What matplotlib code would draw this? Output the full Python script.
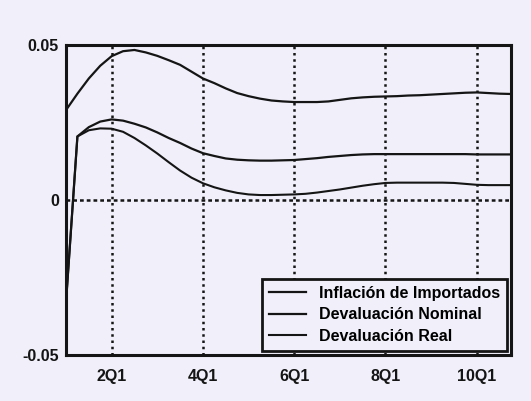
import numpy as np
import matplotlib.pyplot as plt

# quarterly simulation path, t = 0 .. 39
quarters = np.arange(40)

inflacion_importados = [
    0.0290, 0.0343, 0.0392, 0.0433, 0.0464, 0.0480, 0.0484, 0.0476, 0.0465, 0.0451,
    0.0436, 0.0414, 0.0392, 0.0377, 0.0360, 0.0345, 0.0335, 0.0327, 0.0321, 0.0318,
    0.0316, 0.0316, 0.0316, 0.0318, 0.0323, 0.0328, 0.0331, 0.0333, 0.0334, 0.0335,
    0.0337, 0.0338, 0.0340, 0.0342, 0.0344, 0.0346, 0.0347, 0.0345, 0.0343, 0.0342,
]
devaluacion_nominal = [
    -0.0330, 0.0205, 0.0235, 0.0253, 0.0260, 0.0256, 0.0246, 0.0234, 0.0218, 0.0200,
    0.0184, 0.0166, 0.0151, 0.0142, 0.0134, 0.0130, 0.0128, 0.0127, 0.0127, 0.0128,
    0.0129, 0.0132, 0.0135, 0.0139, 0.0142, 0.0145, 0.0147, 0.0148, 0.0148, 0.0148,
    0.0148, 0.0148, 0.0148, 0.0148, 0.0148, 0.0148, 0.0147, 0.0147, 0.0147, 0.0147,
]
devaluacion_real = [
    -0.0330, 0.0205, 0.0225, 0.0231, 0.0230, 0.0220, 0.0200, 0.0176, 0.0150, 0.0122,
    0.0095, 0.0072, 0.0054, 0.0041, 0.0031, 0.0023, 0.0018, 0.0016, 0.0016, 0.0017,
    0.0018, 0.0020, 0.0024, 0.0029, 0.0034, 0.0040, 0.0046, 0.0051, 0.0055, 0.0056,
    0.0056, 0.0056, 0.0056, 0.0056, 0.0055, 0.0052, 0.0049, 0.0048, 0.0048, 0.0048,
]

tick_pos = [4, 12, 20, 28, 36]
tick_labels = ["2Q1", "4Q1", "6Q1", "8Q1", "10Q1"]

bg = "#f1f0fa"
ink = "#151515"
fam = ["Liberation Sans", "DejaVu Sans"]

fig = plt.figure(figsize=(5.31, 4.01), dpi=100, facecolor=bg)
ax = fig.add_axes([66 / 531, 46 / 401, 445 / 531, 310 / 401], facecolor=bg)

ax.plot(quarters, inflacion_importados, color=ink, lw=1.6, label="Inflación de Importados")
ax.plot(quarters, devaluacion_nominal, color=ink, lw=1.6, label="Devaluación Nominal")
ax.plot(quarters, devaluacion_real, color=ink, lw=1.5, label="Devaluación Real")

# dotted reference lines
for x in tick_pos:
    ax.axvline(x, color=ink, lw=1.8, ls=(0, (1, 1.5)), zorder=0)
ax.axhline(0, color=ink, lw=1.8, ls=(0, (1.5, 1.2)), zorder=0)

ax.set_xlim(0, 39)
ax.set_ylim(-0.05, 0.05)
ax.set_xticks(tick_pos)
ax.set_xticklabels(tick_labels)
ax.set_yticks([-0.05, 0, 0.05])
ax.set_yticklabels(["-0.05", "0", "0.05"])
ax.tick_params(axis="x", length=0, pad=10)
ax.tick_params(axis="y", length=0, pad=5)
for lab in ax.get_xticklabels() + ax.get_yticklabels():
    lab.set_family(fam)
    lab.set_fontweight("bold")
    lab.set_fontsize(11.5)
    lab.set_color(ink)

for s in ax.spines.values():
    s.set_color(ink)
    s.set_linewidth(2.2)

leg = ax.legend(loc="lower right", bbox_to_anchor=(1, 0), borderaxespad=0.25,
                fancybox=False, framealpha=1, facecolor=bg, edgecolor=ink,
                handlelength=2.3, handletextpad=0.8, labelspacing=0.4,
                borderpad=0.45, prop={"family": fam, "size": 11.5, "weight": "bold"})
leg.get_frame().set_linewidth(2.0)

fig.savefig("out.png", dpi=100, facecolor=bg)
